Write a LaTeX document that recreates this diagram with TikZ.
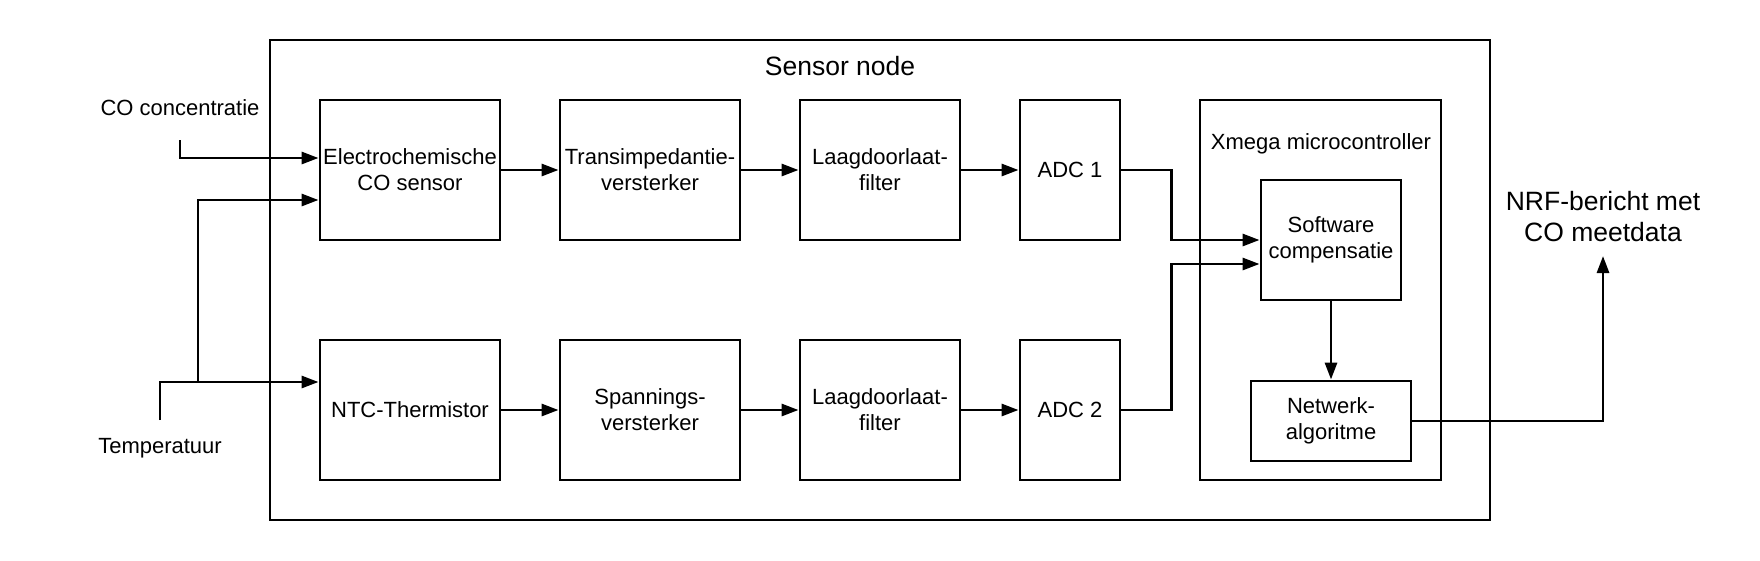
\documentclass[tikz,border=0pt]{standalone}
\usepackage{fontspec}
\setmainfont{Liberation Sans}
\usetikzlibrary{arrows.meta,calc}
\begin{document}
\begin{tikzpicture}[x=1pt,y=-1pt,line width=2.9pt,
  box/.style={draw,line width=2.9pt,rectangle,align=center,inner sep=2pt,font=\fontsize{22}{26}\selectfont},
  frame/.style={draw,line width=2.9pt,rectangle,inner sep=0pt},
  lbl/.style={align=center,inner sep=0pt,font=\fontsize{22}{26}\selectfont},
  big/.style={align=center,inner sep=0pt,font=\fontsize{26.5}{31}\selectfont},
  arr/.style={-{Triangle[length=17pt,width=12pt]},line width=2.9pt}]
\useasboundingbox (0,0) rectangle (1760,560);

% containers
\node[frame,minimum width=1220pt,minimum height=480pt] (outer) at (880,280) {};
\node[big] (title) at (840,66) {Sensor node};
\node[frame,minimum width=241pt,minimum height=380pt] (xmega) at (1320.5,290) {};
\node[lbl] (xlabel) at (1321,144) {Xmega microcontroller};

% top row
\node[box,minimum width=180pt,minimum height=140pt] (electro) at (410,170) {Electrochemische\\CO sensor};
\node[box,minimum width=180pt,minimum height=140pt] (trans) at (650,170) {Transimpedantie-\\versterker};
\node[box,minimum width=160pt,minimum height=140pt] (laag1) at (880,170) {Laagdoorlaat-\\filter};
\node[box,minimum width=100pt,minimum height=140pt] (adc1) at (1070,170) {ADC 1};

% bottom row
\node[box,minimum width=180pt,minimum height=140pt] (ntc) at (410,410) {NTC-Thermistor};
\node[box,minimum width=180pt,minimum height=140pt] (span) at (650,410) {Spannings-\\versterker};
\node[box,minimum width=160pt,minimum height=140pt] (laag2) at (880,410) {Laagdoorlaat-\\filter};
\node[box,minimum width=100pt,minimum height=140pt] (adc2) at (1070,410) {ADC 2};

% microcontroller contents
\node[box,minimum width=140pt,minimum height=120pt] (soft) at (1331,240) {Software\\compensatie};
\node[box,minimum width=160pt,minimum height=80pt] (net) at (1331,421) {Netwerk-\\algoritme};

% outside labels
\node[lbl] (colbl) at (180,108) {CO concentratie};
\node[lbl] (templbl) at (160,448) {Temperatuur};
\node[big] (nrf) at (1603,217) {NRF-bericht met\\CO meetdata};

\coordinate (coin) at (180,140);
\coordinate (tin) at (160,420);
\coordinate (tbr) at (198,382);
\coordinate (nrfin) at (1603,256);

% inputs
\draw[arr] (coin) |- ([yshift=12pt]electro.west);
\draw[arr] (tin) |- ([yshift=28pt]ntc.west);
\draw[arr] (tbr) |- ([yshift=-30pt]electro.west);

% chains
\draw[arr] (electro) -- (trans);
\draw[arr] (trans) -- (laag1);
\draw[arr] (laag1) -- (adc1);
\draw[arr] (ntc) -- (span);
\draw[arr] (span) -- (laag2);
\draw[arr] (laag2) -- (adc2);

% to software
\draw[arr] (adc1.east) -- ++(50,0) |- (soft.west);
\draw[arr] (adc2.east) -- ++(50,0) |- ([yshift=-24pt]soft.west);
\draw[arr] (soft) -- (net);
\draw[arr] (net.east) -| (nrfin);
\end{tikzpicture}
\end{document}
